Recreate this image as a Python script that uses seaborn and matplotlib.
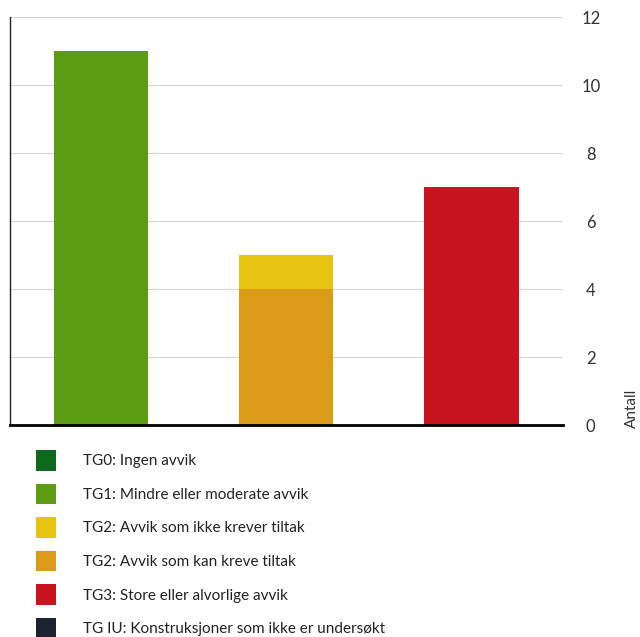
import matplotlib.pyplot as plt
import seaborn as sns
from matplotlib.patches import Patch

# bar data (TG2 is stacked: lower part + upper part)
categories = ['TG1', 'TG2', 'TG3']
totals = [11, 5, 7]
lower = [11, 4, 7]
top_colors = ['#5c9b12', '#e7c312', '#c9141f']
low_colors = ['#5c9b12', '#d99b18', '#c9141f']

legend_labels = [
    'TG0: Ingen avvik',
    'TG1: Mindre eller moderate avvik',
    'TG2: Avvik som ikke krever tiltak',
    'TG2: Avvik som kan kreve tiltak',
    'TG3: Store eller alvorlige avvik',
    'TG IU: Konstruksjoner som ikke er undersøkt',
]
legend_colors = ['#0d6a1c', '#5c9b12', '#e7c312', '#d99b18', '#c9141f', '#1c2230']

sns.set_style('white')
plt.rcParams['font.family'] = ['Lato', 'DejaVu Sans']

fig = plt.figure(figsize=(6.4, 6.37), dpi=100)
ax = fig.add_axes([10 / 640, 1 - 425 / 637, 553 / 640, 408 / 637])

sns.barplot(x=categories, y=totals, hue=categories, palette=top_colors,
            legend=False, width=0.51, saturation=1, linewidth=0, ax=ax)
sns.barplot(x=categories, y=lower, hue=categories, palette=low_colors,
            legend=False, width=0.51, saturation=1, linewidth=0, ax=ax)

ax.set_xlim(-0.49, 2.495)
ax.set_ylim(0, 12)
ax.set_yticks(range(0, 13, 2))
ax.yaxis.tick_right()
ax.tick_params(axis='y', length=0, pad=20, labelsize=12, labelcolor='#333333')
for lbl in ax.get_yticklabels():
    lbl.set_ha('center')
ax.set_xticks([])
ax.set(xlabel='', ylabel='')
ax.yaxis.grid(True, color='#d6d6d6', linewidth=0.8)
ax.set_axisbelow(True)

for side in ['top', 'right']:
    ax.spines[side].set_visible(False)
ax.spines['left'].set_color('#222222')
ax.spines['left'].set_linewidth(1)
ax.spines['bottom'].set_color('black')
ax.spines['bottom'].set_linewidth(2)

fig.text(0.988, 1 - 408 / 637, 'Antall', rotation=90, ha='center',
         va='center', fontsize=11, color='#333333')

handles = [Patch(facecolor=c, edgecolor='none') for c in legend_colors]
fig.legend(handles, legend_labels, loc='upper left',
           bbox_to_anchor=(36 / 640, 1 - 450 / 637), frameon=False,
           fontsize=11, borderpad=0, borderaxespad=0,
           handlelength=1.3, handleheight=1.7, handletextpad=1.75,
           labelspacing=0.85, labelcolor='#222222')

fig.savefig('out.png', dpi=100)
